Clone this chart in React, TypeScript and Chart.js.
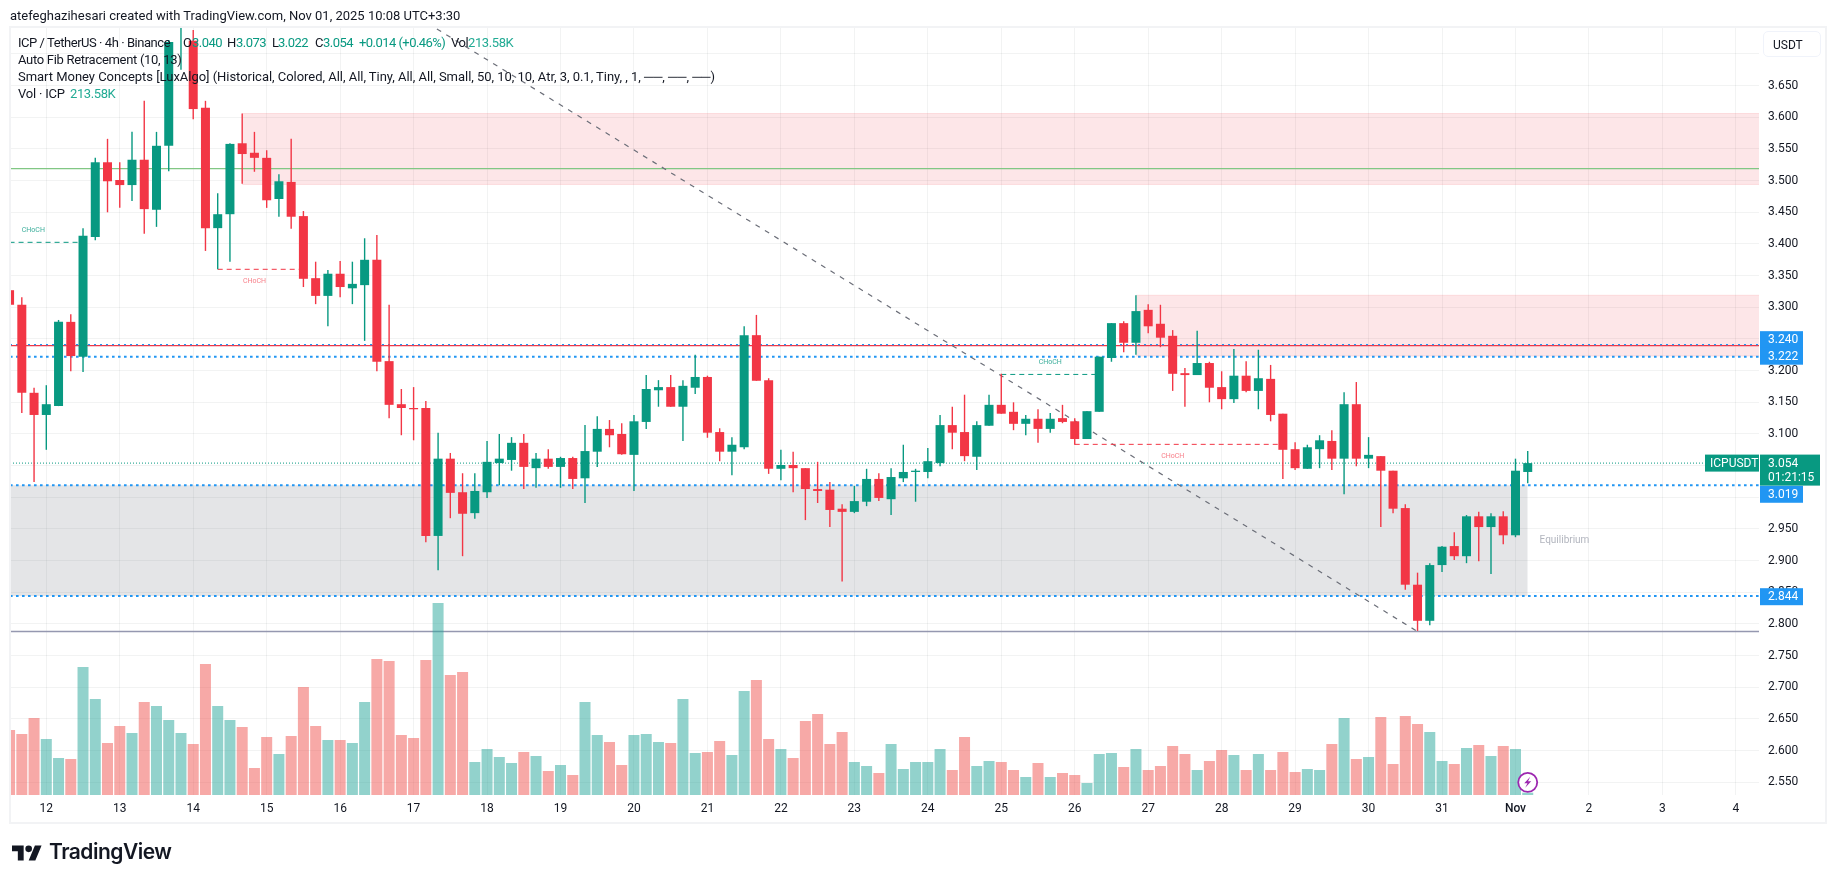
import { useEffect, useRef } from "react";
import { Chart, registerables } from "chart.js";

Chart.register(...registerables);

const FIRST_CANDLE = -3;

// 4h candles, one row per day boundary (first row starts three candles before the 12th)
const opens = [
  3.327, 3.304, 3.165, 3.13, 3.144, 3.277,
  3.222, 3.411, 3.529, 3.501, 3.493, 3.533,
  3.454, 3.555, 3.745, 3.721, 3.615, 3.425,
  3.447, 3.559, 3.544, 3.536, 3.471, 3.498,
  3.444, 3.346, 3.318, 3.353, 3.33, 3.335,
  3.375, 3.215, 3.147, 3.141, 3.141, 2.939,
  3.061, 3.008, 2.975, 3.008, 3.054, 3.059,
  3.086, 3.046, 3.061, 3.048, 3.062, 3.03,
  3.072, 3.108, 3.1, 3.067, 3.119, 3.169,
  3.174, 3.143, 3.173, 3.19, 3.103, 3.072,
  3.079, 3.256, 3.185, 3.045, 3.051, 3.046,
  3.013, 3.012, 2.982, 2.977, 2.993, 3.029,
  2.997, 3.03, 3.04, 3.04, 3.054, 3.114,
  3.103, 3.064, 3.113, 3.146, 3.135, 3.116,
  3.124, 3.108, 3.125, 3.12, 3.092, 3.135,
  3.22, 3.275, 3.244, 3.296, 3.274, 3.255,
  3.196, 3.193, 3.212, 3.174, 3.155, 3.192,
  3.168, 3.187, 3.132, 3.076, 3.045, 3.076,
  3.089, 3.061, 3.147, 3.061, 3.065, 3.042,
  2.983, 2.862, 2.805, 2.893, 2.923, 2.907,
  2.97, 2.953, 2.97, 2.94, 3.04,
];
const highs = [
  3.327, 3.316, 3.173, 3.177, 3.28, 3.289,
  3.425, 3.536, 3.566, 3.529, 3.577, 3.626,
  3.577, 3.722, 3.78, 3.738, 3.626, 3.48,
  3.559, 3.606, 3.577, 3.548, 3.51, 3.566,
  3.452, 3.372, 3.359, 3.373, 3.372, 3.409,
  3.414, 3.304, 3.171, 3.174, 3.152, 3.102,
  3.07, 3.038, 3.038, 3.089, 3.1, 3.095,
  3.1, 3.07, 3.076, 3.064, 3.064, 3.114,
  3.128, 3.122, 3.117, 3.13, 3.193, 3.185,
  3.193, 3.185, 3.225, 3.192, 3.109, 3.095,
  3.27, 3.288, 3.188, 3.075, 3.072, 3.046,
  3.056, 3.024, 2.989, 3.018, 3.045, 3.038,
  3.046, 3.083, 3.045, 3.078, 3.13, 3.143,
  3.162, 3.12, 3.162, 3.195, 3.15, 3.13,
  3.139, 3.133, 3.146, 3.125, 3.136, 3.222,
  3.275, 3.278, 3.319, 3.305, 3.304, 3.264,
  3.204, 3.263, 3.214, 3.199, 3.234, 3.215,
  3.233, 3.209, 3.132, 3.087, 3.083, 3.098,
  3.106, 3.166, 3.182, 3.095, 3.065, 3.042,
  2.989, 2.881, 2.896, 2.923, 2.945, 2.972,
  2.977, 2.975, 2.978, 3.061, 3.073,
];
const lows = [
  3.304, 3.133, 3.024, 3.075, 3.144, 3.199,
  3.198, 3.406, 3.45, 3.457, 3.468, 3.416,
  3.427, 3.515, 3.675, 3.597, 3.389, 3.36,
  3.372, 3.495, 3.514, 3.457, 3.443, 3.424,
  3.332, 3.305, 3.27, 3.316, 3.305, 3.247,
  3.199, 3.125, 3.098, 3.09, 2.929, 2.885,
  2.967, 2.907, 2.966, 2.999, 3.019, 3.042,
  3.013, 3.015, 3.045, 3.015, 3.013, 2.991,
  3.048, 3.079, 3.067, 3.01, 3.108, 3.143,
  3.143, 3.089, 3.163, 3.094, 3.057, 3.035,
  3.076, 3.184, 3.037, 3.027, 3.008, 2.964,
  2.991, 2.953, 2.867, 2.975, 2.986, 2.994,
  2.972, 3.024, 2.993, 3.03, 3.049, 3.076,
  3.057, 3.043, 3.113, 3.132, 3.106, 3.098,
  3.086, 3.102, 3.117, 3.083, 3.092, 3.135,
  3.214, 3.229, 3.225, 3.259, 3.237, 3.168,
  3.143, 3.193, 3.15, 3.139, 3.149, 3.166,
  3.139, 3.12, 3.029, 3.043, 3.045, 3.046,
  3.043, 3.005, 3.049, 3.046, 2.953, 2.975,
  2.854, 2.789, 2.798, 2.882, 2.901, 2.896,
  2.899, 2.879, 2.926, 2.937, 3.022,
];
const closes = [
  3.304, 3.165, 3.13, 3.147, 3.277, 3.223,
  3.413, 3.529, 3.499, 3.493, 3.533, 3.455,
  3.555, 3.719, 3.76, 3.613, 3.425, 3.447,
  3.558, 3.542, 3.536, 3.469, 3.499, 3.443,
  3.345, 3.318, 3.353, 3.332, 3.337, 3.375,
  3.214, 3.146, 3.141, 3.139, 2.939, 3.061,
  3.007, 2.974, 3.01, 3.056, 3.061, 3.086,
  3.048, 3.061, 3.048, 3.062, 3.029, 3.073,
  3.108, 3.098, 3.068, 3.12, 3.171, 3.174,
  3.143, 3.176, 3.19, 3.102, 3.072, 3.083,
  3.256, 3.184, 3.045, 3.051, 3.046, 3.013,
  3.01, 2.98, 2.977, 2.994, 3.029, 2.999,
  3.032, 3.04, 3.042, 3.057, 3.114, 3.102,
  3.065, 3.114, 3.146, 3.132, 3.116, 3.124,
  3.108, 3.124, 3.119, 3.092, 3.136, 3.222,
  3.275, 3.244, 3.294, 3.27, 3.252, 3.195,
  3.193, 3.212, 3.173, 3.155, 3.192, 3.168,
  3.188, 3.13, 3.075, 3.046, 3.079, 3.09,
  3.061, 3.147, 3.061, 3.067, 3.042, 2.982,
  2.862, 2.805, 2.893, 2.922, 2.907, 2.97,
  2.953, 2.97, 2.94, 3.042, 3.054,
];
// volume in thousands
const volumes = [
  5948, 5582, 7046, 5124, 3386, 3294,
  11712, 8784, 4758, 6314, 5673, 8510,
  8144, 6863, 5673, 4667, 11987, 8144,
  6863, 6222, 2471, 5307, 3752, 5399,
  9882, 6314, 5033, 5033, 4758, 8510,
  12444, 12261, 5490, 5216, 12353, 17568,
  10980, 11255, 3020, 4209, 3477, 2928,
  3935, 3569, 2196, 2745, 1830, 8510,
  5490, 4850, 2745, 5490, 5582, 4850,
  4758, 8784, 3843, 3935, 4941, 3660,
  9516, 10523, 5124, 4209, 3386, 6771,
  7412, 4667, 5765, 3020, 2654, 2013,
  4667, 2379, 3020, 3020, 4209, 2288,
  5307, 2654, 3111, 3020, 2288, 1647,
  2928, 1647, 2013, 1830, 1098, 3752,
  3843, 2562, 4209, 2288, 2654, 4484,
  3752, 2288, 3111, 4118, 3660, 2288,
  3752, 2288, 3935, 2105, 2379, 2288,
  4667, 7046, 3294, 3477, 7137, 2837,
  7229, 6497, 5765, 3111, 2837, 4301,
  4575, 3569, 4484, 4209, 213.58,
];

const dayLabels = ["12", "13", "14", "15", "16", "17", "18", "19", "20", "21", "22", "23", "24", "25", "26", "27", "28", "29", "30", "31", "Nov", "2", "3", "4"];
const priceTicks = [2.55, 2.6, 2.65, 2.7, 2.75, 2.8, 2.85, 2.9, 2.95, 3.0, 3.05, 3.1, 3.15, 3.2, 3.25, 3.3, 3.35, 3.4, 3.45, 3.5, 3.55, 3.6, 3.65, 3.7];

const blueLevels = [3.241, 3.222, 3.019, 2.844];
const lastPrice = 3.054;
const redLevel = 3.2394;
const greenLevel = 3.519;
const lowLevel = 2.788;
const trendFrom = [12, 3.976];
const trendTo = [112, 2.788];

// [from candle, to candle, price]
const chochGreen = [[-3, 3, 3.4026], [78, 86, 3.194]];
const chochRed = [[14, 21, 3.36], [84, 101, 3.0836]];
const chochLabels: [number, number, string, string][] = [
  [-1.06, 3.4223, "CHoCH", "g"],
  [17, 3.3406, "CHoCH", "r"],
  [82, 3.2131, "CHoCH", "g"],
  [92, 3.0645, "CHoCH", "r"],
];

const X_MIN = -2.965;
const X_MAX = 139.89;
const GREEN = "#089981";
const RED = "#F23645";
const BLUE = "#2196F3";
const TEXT = "#131722";
const FONT = "Roboto";

const candleColors = closes.map((c, k) => (c >= opens[k] ? GREEN : RED));
const volColors = closes.map((c, k) => (c >= opens[k] ? "rgba(38,166,154,0.5)" : "rgba(239,83,80,0.5)"));

function hline(price: number, from: number, to: number, color: string, width: number, dash: number[], order: number) {
  return {
    type: "line" as const,
    data: [{ x: from, y: price }, { x: to, y: price }],
    borderColor: color,
    borderWidth: width,
    borderDash: dash,
    pointRadius: 0,
    order,
    yAxisID: "y",
  };
}

function zone(low: number, high: number, from: number, to: number, fill: string, edge: string, order: number) {
  return [
    { ...hline(high, from, to, edge, 1, [], order), fill: { value: low }, backgroundColor: fill },
    hline(low, from, to, edge, 1, [], order),
  ];
}

const annotations = {
  id: "annotations",
  afterDraw(chart: any) {
    const { ctx, scales, chartArea } = chart;
    const x = scales.x;
    const y = scales.y;
    ctx.save();
    ctx.textBaseline = "middle";

    ctx.font = `7px ${FONT}`;
    ctx.textAlign = "center";
    chochLabels.forEach(([i, p, text, tone]) => {
      ctx.fillStyle = tone === "g" ? "rgba(8,153,129,0.8)" : "rgba(242,54,69,0.65)";
      ctx.fillText(text, x.getPixelForValue(i), y.getPixelForValue(p));
    });

    ctx.font = `10px ${FONT}`;
    ctx.fillStyle = "#B2B5BE";
    ctx.fillText("Equilibrium", x.getPixelForValue(124.0), y.getPixelForValue(2.9315));

    // lightning badge sitting on the last bar
    const bx = x.getPixelForValue(121);
    const by = y.getPixelForValue(2.55);
    ctx.beginPath();
    ctx.arc(bx, by, 9.5, 0, Math.PI * 2);
    ctx.fillStyle = "#fff";
    ctx.fill();
    ctx.lineWidth = 1.8;
    ctx.strokeStyle = "#9C27B0";
    ctx.stroke();
    ctx.beginPath();
    ctx.moveTo(bx + 2.5, by - 5.5);
    ctx.lineTo(bx - 3.5, by + 1);
    ctx.lineTo(bx - 0.3, by + 1);
    ctx.lineTo(bx - 2.5, by + 5.5);
    ctx.lineTo(bx + 3.5, by - 1);
    ctx.lineTo(bx + 0.3, by - 1);
    ctx.closePath();
    ctx.fillStyle = "#9C27B0";
    ctx.fill();

    // price scale badges
    const left = chartArea.right + 1;
    const shifts = [-5, -0.5, 9, 0.6];
    ctx.font = `12px ${FONT}`;
    ctx.textAlign = "left";
    blueLevels.forEach((p, k) => {
      const py = y.getPixelForValue(p) + shifts[k];
      ctx.fillStyle = BLUE;
      ctx.fillRect(left, py - 8.5, 43, 17);
      ctx.fillStyle = "#fff";
      ctx.fillText(["3.240", "3.222", "3.019", "2.844"][k], left + 8, py + 0.5);
    });

    const py = y.getPixelForValue(lastPrice);
    ctx.fillStyle = GREEN;
    ctx.fillRect(left, py - 8.5, 60, 31);
    ctx.fillRect(chartArea.right - 54, py - 8.5, 54, 17);
    ctx.fillStyle = "#fff";
    ctx.fillText("3.054", left + 8, py + 0.5);
    ctx.fillText("01:21:15", left + 8, py + 14.5);
    ctx.fillText("ICPUSDT", chartArea.right - 49, py + 0.5);
    ctx.restore();
  },
};

function Label({ x, y, children, color = TEXT, size = 13, spacing = 0 }: any) {
  return (
    <span
      style={{
        position: "absolute",
        left: x,
        top: y,
        transform: "translateY(-50%)",
        color,
        fontSize: size,
        fontFamily: FONT,
        letterSpacing: spacing,
        lineHeight: 1,
        whiteSpace: "pre",
      }}
    >
      {children}
    </span>
  );
}

export default function App() {
  const canvasRef = useRef<HTMLCanvasElement | null>(null);

  useEffect(() => {
    if (!canvasRef.current) return;
    const xs = opens.map((_, k) => k + FIRST_CANDLE);

    const chart = new Chart(canvasRef.current, {
      type: "bar",
      data: {
        datasets: [
          {
            data: xs.map((x, k) => ({ x, y: [opens[k], closes[k]] })),
            backgroundColor: candleColors,
            barThickness: 9,
            grouped: false,
            inflateAmount: 0,
            borderWidth: 0,
            order: 1,
            yAxisID: "y",
          },
          {
            data: xs.map((x, k) => ({ x, y: [lows[k], highs[k]] })),
            backgroundColor: candleColors,
            barThickness: 1.4,
            grouped: false,
            inflateAmount: 0,
            borderWidth: 0,
            order: 2,
            yAxisID: "y",
          },
          {
            data: xs.map((x, k) => ({ x, y: volumes[k] })),
            backgroundColor: volColors,
            barThickness: 11,
            grouped: false,
            inflateAmount: 0,
            borderWidth: 0,
            order: 8,
            yAxisID: "vol",
          },
          ...blueLevels.map((p, k) =>
            hline(p, X_MIN, X_MAX, BLUE, k === 0 ? 1.3 : 2, k === 0 ? [2, 4] : [2.6, 3.4], 4),
          ),
          hline(redLevel, X_MIN, X_MAX, RED, 1.2, [], 5),
          hline(greenLevel, X_MIN, X_MAX, "#81C784", 1.2, [], 5),
          hline(lowLevel, X_MIN, X_MAX, "#9598B0", 1.6, [], 9),
          hline(lastPrice, X_MIN, X_MAX, GREEN, 1, [1, 2], 5),
          ...chochGreen.map(([a, b, p]) => hline(p, a, b, GREEN, 1, [5, 4], 3)),
          ...chochRed.map(([a, b, p]) => hline(p, a, b, RED, 1, [5, 4], 3)),
          {
            type: "line",
            data: [{ x: trendFrom[0], y: trendFrom[1] }, { x: trendTo[0], y: trendTo[1] }],
            borderColor: "#6B6E78",
            borderWidth: 1.2,
            borderDash: [5, 6],
            pointRadius: 0,
            order: 3,
            yAxisID: "y",
          },
          ...zone(3.494, 3.606, 16, X_MAX, "rgba(242,54,69,0.125)", "rgba(242,54,69,0.12)", 10),
          ...zone(3.223, 3.319, 89, X_MAX, "rgba(242,54,69,0.125)", "rgba(242,54,69,0.12)", 10),
          ...zone(2.844, 3.019, X_MIN, 121, "rgba(120,123,134,0.2)", "rgba(120,123,134,0)", 10),
        ] as any,
      },
      options: {
        responsive: false,
        devicePixelRatio: 1,
        animation: false,
        events: [],
        layout: { padding: { left: 10, top: 27, right: 0, bottom: 0 } },
        plugins: { legend: { display: false }, tooltip: { enabled: false } },
        scales: {
          x: {
            type: "linear",
            min: X_MIN,
            max: X_MAX,
            offset: false,
            afterBuildTicks: (scale: any) => {
              scale.ticks = dayLabels.map((_, k) => ({ value: k * 6 }));
            },
            afterFit: (scale: any) => {
              scale.height = 88;
            },
            grid: { color: "rgba(42,46,57,0.06)", drawTicks: false, offset: false },
            border: { display: false },
            ticks: {
              autoSkip: false,
              maxRotation: 0,
              padding: 7,
              color: TEXT,
              font: (c: any) => ({
                family: FONT,
                size: 12,
                weight: c.tick && c.tick.value === 120 ? "500" : "normal",
              }),
              callback: (v: any) => dayLabels[Number(v) / 6],
            },
          },
          y: {
            position: "right",
            min: 2.52995,
            max: 3.74258,
            afterBuildTicks: (scale: any) => {
              scale.ticks = priceTicks.map((value) => ({ value }));
            },
            afterFit: (scale: any) => {
              scale.width = 76;
            },
            grid: { color: "rgba(42,46,57,0.06)", drawTicks: false },
            border: { display: false },
            ticks: {
              autoSkip: false,
              padding: 9,
              color: TEXT,
              font: { family: FONT, size: 12 },
              callback: (v: any) => Number(v).toFixed(3),
            },
          },
          vol: { display: false, min: 0, max: 70272 },
        },
      },
      plugins: [annotations],
    });

    return () => chart.destroy();
  }, []);

  const legendGreen = "#22AB94";

  return (
    <div style={{ position: "absolute", left: 0, top: 0, width: 1835, height: 883, overflow: "hidden", background: "#fff" }}>
      <canvas ref={canvasRef} width={1835} height={883} style={{ position: "absolute", left: 0, top: 0, display: "block" }} />
      <div
        style={{
          position: "absolute",
          left: 9,
          top: 26,
          width: 1814,
          height: 794,
          border: "2px solid #F2F3F5",
          pointerEvents: "none",
        }}
      />

      <Label x={10} y={15}>atefeghazihesari created with TradingView.com, Nov 01, 2025 10:08 UTC+3:30</Label>

      <Label x={18} y={42} spacing={-0.45}>ICP / TetherUS · 4h · Binance</Label>
      <Label x={183} y={42}>O</Label>
      <Label x={192} y={42} color={GREEN} spacing={-0.5}>3.040</Label>
      <Label x={227} y={42}>H</Label>
      <Label x={236} y={42} color={GREEN} spacing={-0.5}>3.073</Label>
      <Label x={272} y={42}>L</Label>
      <Label x={278} y={42} color={GREEN} spacing={-0.5}>3.022</Label>
      <Label x={315} y={42}>C</Label>
      <Label x={323} y={42} color={GREEN} spacing={-0.5}>3.054</Label>
      <Label x={359} y={42} color={GREEN} spacing={-0.55}>+0.014 (+0.46%)</Label>
      <Label x={451} y={42} spacing={-0.4}>Vol</Label>
      <Label x={468} y={42} color={legendGreen} spacing={-0.4}>213.58K</Label>
      <Label x={18} y={59} spacing={-0.3}>Auto Fib Retracement (10, 13)</Label>
      <Label x={18} y={76} spacing={-0.03}>Smart Money Concepts [LuxAlgo] (Historical, Colored, All, All, Tiny, All, All, Small, 50, 10, 10, Atr, 3, 0.1, Tiny, , 1, ──, ──, ──)</Label>
      <Label x={18} y={93} spacing={-0.2}>Vol · ICP</Label>
      <Label x={70} y={93} color={legendGreen} spacing={-0.4}>213.58K</Label>

      <div
        style={{
          position: "absolute",
          left: 1763,
          top: 31,
          width: 56,
          height: 24,
          border: "1.5px solid #F0F3FA",
          borderRadius: 5,
          background: "#fff",
        }}
      />
      <Label x={1773} y={45} size={12}>USDT</Label>

      <svg style={{ position: "absolute", left: 12, top: 845 }} width={30} height={16} viewBox="0 0 36 18">
        <path d="M14 18H7V7H0V0h14v18zM28 18h-8L27.5 0h8L28 18z" fill="#131722" />
        <circle cx="20" cy="4" r="4" fill="#131722" />
      </svg>
      <span
        style={{
          position: "absolute",
          left: 49,
          top: 839,
          fontFamily: "Inter",
          fontWeight: 600,
          fontSize: 21,
          lineHeight: "26px",
          letterSpacing: -0.5,
          color: "#131722",
        }}
      >
        TradingView
      </span>
    </div>
  );
}
